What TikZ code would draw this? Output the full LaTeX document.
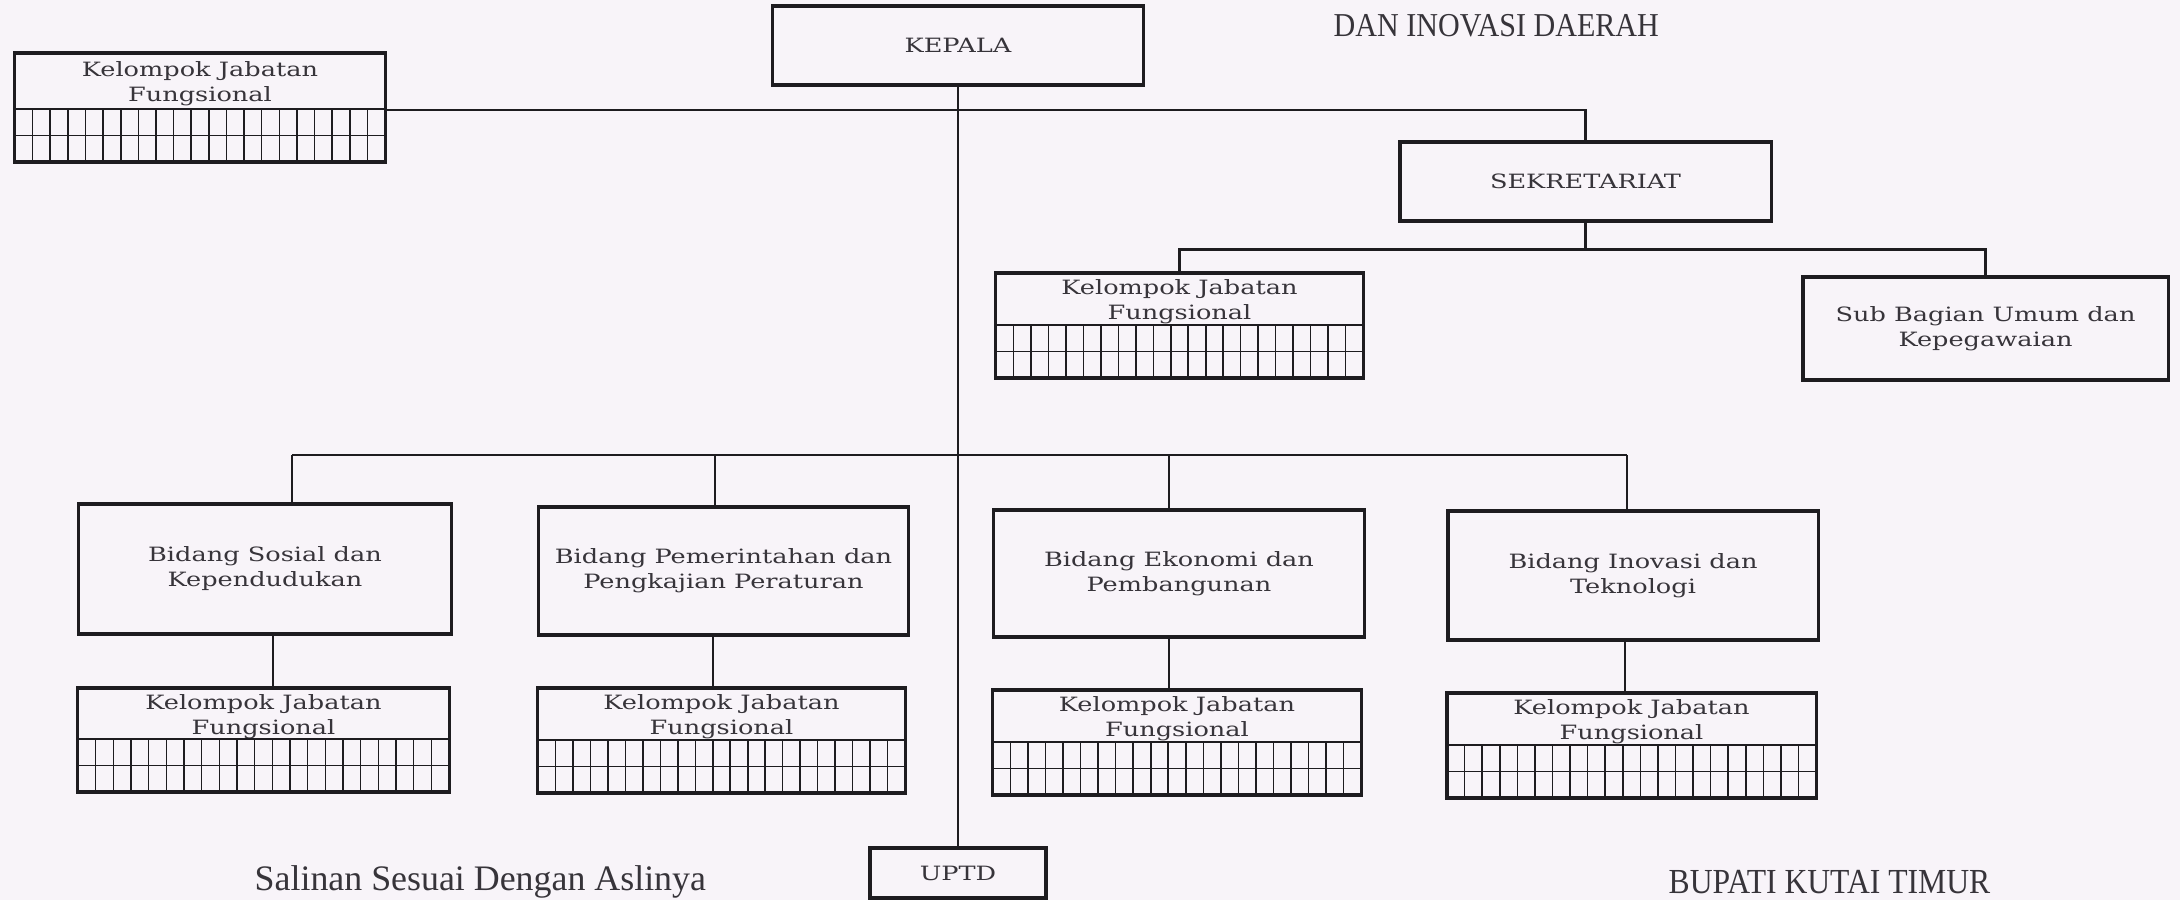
\documentclass[tikz,border=0pt]{standalone}
\usepackage{fontspec}
\setmainfont{Liberation Serif}
\newfontfamily\boxfont[FakeStretch=1.3]{DejaVu Serif}
\newfontfamily\condserif[FakeStretch=0.9]{Liberation Serif}
\usetikzlibrary{calc}
\definecolor{paper}{RGB}{248,244,249}
\definecolor{ink}{RGB}{30,28,32}
\definecolor{txt}{RGB}{55,52,58}
\newcommand\bfnt{\boxfont\fontsize{5.6}{7.1}\selectfont}
\newcommand\mkbox[6]{%
  \pgfmathsetmacro\bxw{(#4-#2)*0.284528}%
  \pgfmathsetmacro\bxh{(#5-#3)*0.284528}%
  \node[orgbox, minimum width=\bxw pt, minimum height=\bxh pt] (#1) at ({(#2+#4)/2},{(#3+#5)/2}) {#6};%
}
\newcommand\mkjf[5]{%
  \mkbox{#1}{#2}{#3}{#4}{#5}{}%
  \pgfmathsetmacro\gtop{#5-53}%
  \pgfmathsetmacro\gmid{#5-26.5}%
  \node[boxtext] (#1-t) at ({(#2+#4)/2},{(#3+\gtop)/2+3}) {Kelompok Jabatan\\Fungsional};%
  \draw[conn] (#2,\gtop) -- (#4,\gtop);%
  \draw[gridline] (#2,\gmid) -- (#4,\gmid);%
  \foreach \i in {1,...,20}{\draw[gridline] ({#2+\i*(#4-#2)/21},\gtop) -- ({#2+\i*(#4-#2)/21},#5);}%
}
\begin{document}
\begin{tikzpicture}[x=0.01cm,y=-0.01cm,
  orgbox/.style={draw=ink, line width=0.9pt, inner sep=0pt, align=center, text=txt, font=\bfnt},
  boxtext/.style={inner sep=0pt, align=center, text=txt, font=\bfnt},
  conn/.style={draw=ink, line width=0.8pt},
  gridline/.style={draw=ink, line width=0.45pt},
  plain/.style={inner sep=0pt, text=txt}]
\useasboundingbox (0,0) rectangle (2180,900);
\fill[paper] (0,0) rectangle (2180,900);
\clip (0,0) rectangle (2180,900);

% header / footer texts
\node[plain, anchor=base west, font=\condserif\fontsize{9.5}{11}\selectfont] (hdr) at (1333,37) {DAN INOVASI DAERAH};
\node[plain, anchor=base west, font=\fontsize{10.2}{12}\selectfont] (sal) at (254,890) {Salinan Sesuai Dengan Aslinya};
\node[plain, anchor=base west, font=\condserif\fontsize{10}{12}\selectfont] (bup) at (1668,893) {BUPATI KUTAI TIMUR};

% boxes
\mkbox{kepala}{773}{6}{1143}{85}{KEPALA}
\mkjf{kjf0}{15}{53}{385}{162}
\mkbox{sek}{1400}{142}{1771}{221}{SEKRETARIAT}
\mkjf{kjfS}{996}{273}{1363}{378}
\mkbox{sub}{1803}{277}{2168}{380}{Sub Bagian Umum dan\\Kepegawaian}
\mkbox{b1}{79}{504}{451}{634}{Bidang Sosial dan\\Kependudukan}
\mkbox{b2}{539}{507}{908}{635}{Bidang Pemerintahan dan\\Pengkajian Peraturan}
\mkbox{b3}{994}{510}{1364}{637}{Bidang Ekonomi dan\\Pembangunan}
\mkbox{b4}{1448}{511}{1818}{640}{Bidang Inovasi dan\\Teknologi}
\mkjf{k1}{78}{688}{449}{792}
\mkjf{k2}{538}{688}{905}{793}
\mkjf{k3}{993}{690}{1361}{795}
\mkjf{k4}{1447}{693}{1816}{798}
\mkbox{uptd}{870}{848}{1046}{898}{UPTD}

% connectors
\draw[conn] (kepala.south) -- (uptd.north);
\coordinate (y0) at (0,110);
\draw[conn] (kjf0.east |- y0) -| (sek.north);
\coordinate (sb) at ($(sek.south)+(0,27)$);
\draw[conn] (sek.south) -- (sb);
\draw[conn] (kjfS.north) |- (sb) -| (sub.north);

\coordinate (h1) at (292,455);
\coordinate (h2) at (715,455);
\coordinate (h3) at (1169,455);
\coordinate (h4) at (1627,455);
\draw[conn] (h1) -- (h4);
\draw[conn] (h1) -- (h1 |- b1.north);
\draw[conn] (h2) -- (h2 |- b2.north);
\draw[conn] (h3) -- (h3 |- b3.north);
\draw[conn] (h4) -- (h4 |- b4.north);

\coordinate (v1) at (273,0);
\coordinate (v2) at (713,0);
\coordinate (v3) at (1169,0);
\coordinate (v4) at (1625,0);
\draw[conn] (b1.south -| v1) -- (k1.north -| v1);
\draw[conn] (b2.south -| v2) -- (k2.north -| v2);
\draw[conn] (b3.south -| v3) -- (k3.north -| v3);
\draw[conn] (b4.south -| v4) -- (k4.north -| v4);
\end{tikzpicture}
\end{document}
